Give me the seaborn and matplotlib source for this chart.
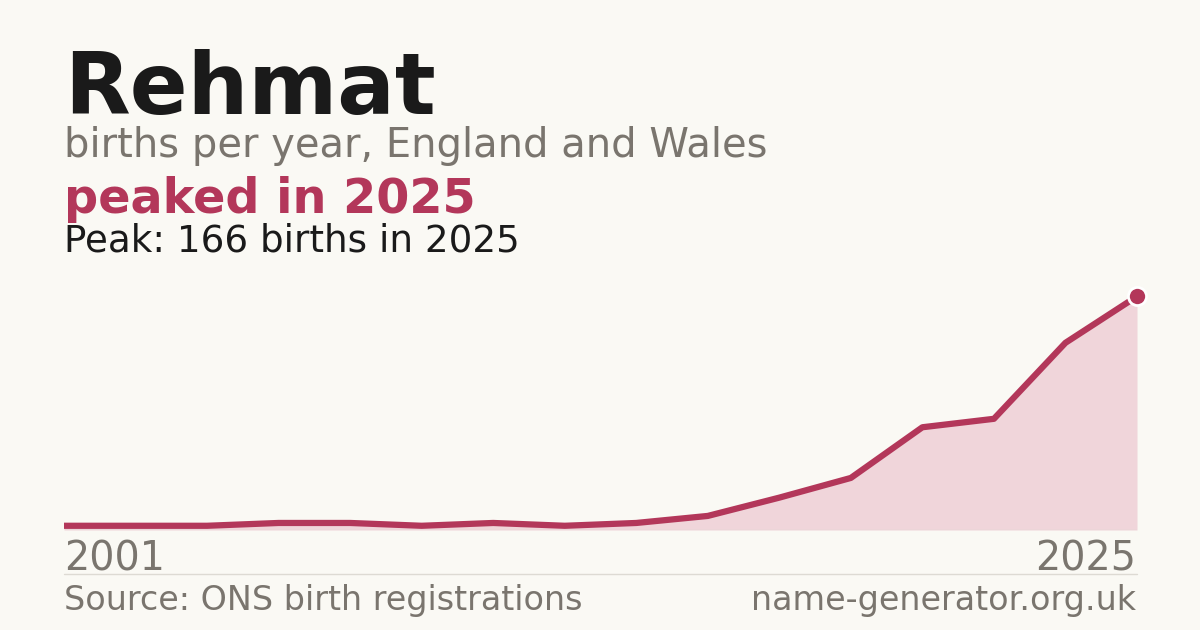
import pandas as pd
import matplotlib.pyplot as plt
import seaborn as sns

# Data (births per year, plotted by point index)
points = list(range(16))
births = [3, 3, 3, 5, 5, 3, 5, 3, 5, 10, 23, 37, 73, 79, 133, 166]
first_year = '2001'
last_year = '2025'

df = pd.DataFrame({'point': points, 'births': births})

BG = '#faf9f4'
ACCENT = '#b3375a'
FILL = '#f0d5da'
GREY = '#7a756e'
INK = '#1a1a1a'
RULE = '#dddad3'

sns.set_theme(style='white')
plt.rcParams['font.family'] = ['DejaVu Sans']

W, H = 1200, 630
fig = plt.figure(figsize=(12, 6.3), dpi=100, facecolor=BG)


def fx(px):
    return px / W


def fy(py):
    return 1 - py / H


# plot area: x 64..1137, baseline at y=530
ax = fig.add_axes([fx(64), fy(530), fx(1137 - 64), (530 - 280) / H])
ax.set_facecolor(BG)
ax.fill_between(df['point'], df['births'], 0, color=FILL, linewidth=0, zorder=1)
ax.axhline(0, color=RULE, linewidth=1, zorder=1.5)
sns.lineplot(data=df, x='point', y='births', ax=ax, color=ACCENT, linewidth=4.5,
             solid_capstyle='butt', zorder=2)
ax.scatter(df['point'].iloc[-1], df['births'].iloc[-1], s=170, color=ACCENT,
           edgecolor='white', linewidth=2, zorder=3, clip_on=False)
ax.set_xlim(points[0], points[-1])
ax.set_ylim(0, max(births) * 1.07)
ax.axis('off')

# headline texts
fig.text(fx(64), fy(114), 'Rehmat', fontsize=61.5, fontweight='bold', color=INK, va='baseline')
fig.text(fx(64), fy(157.5), 'births per year, England and Wales', fontsize=28.8, color=GREY, va='baseline')
fig.text(fx(64), fy(213), 'peaked in 2025', fontsize=34.4, fontweight='bold', color=ACCENT, va='baseline')
fig.text(fx(64), fy(252), f'Peak: {max(births)} births in {last_year}', fontsize=26.8, color=INK, va='baseline')

# year labels
fig.text(fx(64), fy(570.5), first_year, fontsize=28.5, color=GREY, va='baseline')
fig.text(fx(1136), fy(570.5), last_year, fontsize=28.5, color=GREY, va='baseline', ha='right')

# separator and footer
fig.add_artist(plt.Line2D([fx(64), fx(1137)], [fy(574), fy(574)], color=RULE, linewidth=1))
fig.text(fx(64), fy(610), 'Source: ONS birth registrations', fontsize=24, color=GREY, va='baseline')
fig.text(fx(1136), fy(610), 'name-generator.org.uk', fontsize=24, color=GREY, va='baseline', ha='right')

fig.savefig('out.png', dpi=100, facecolor=BG)
